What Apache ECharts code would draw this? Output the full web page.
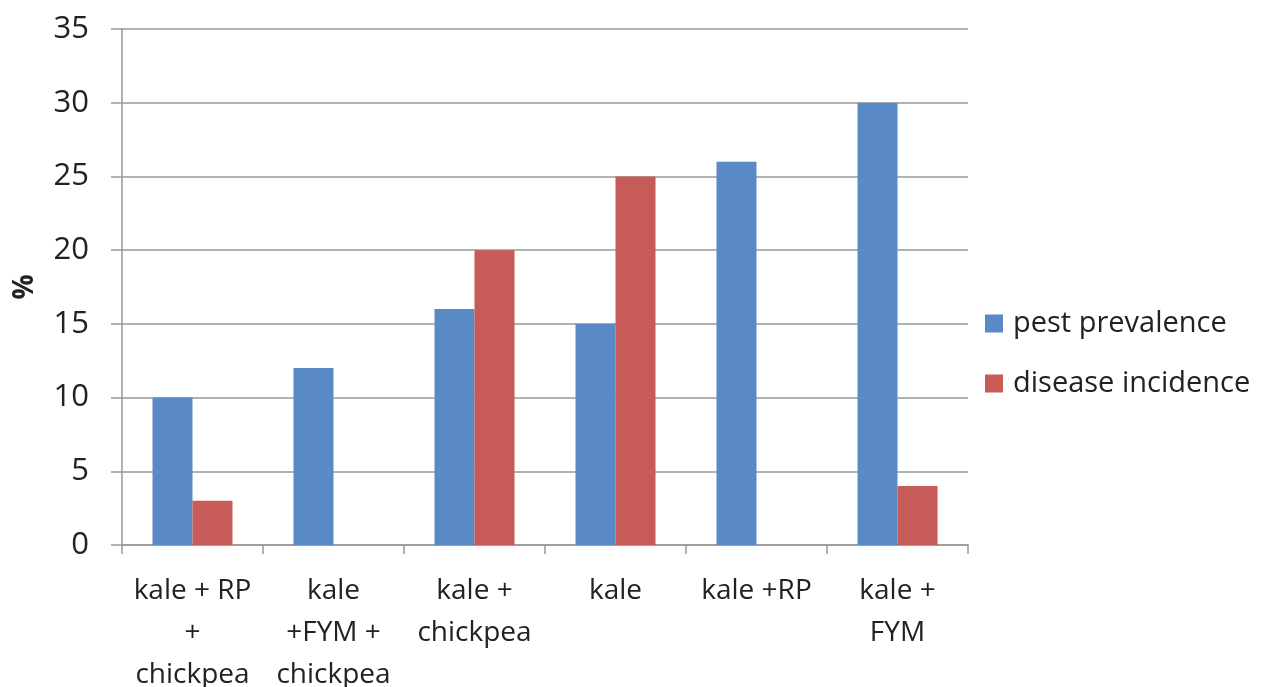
<!DOCTYPE html>
<html><head><meta charset="utf-8">
<script src="https://cdn.jsdelivr.net/npm/echarts@6/dist/echarts.min.js"></script>
<style>html,body{margin:0;padding:0;background:#fff}#c{width:1268px;height:687px}</style>
</head><body><div id="c"></div>
<script>
const categories = ['kale + RP\n+\nchickpea', 'kale\n+FYM +\nchickpea', 'kale +\nchickpea', 'kale', 'kale +RP', 'kale +\nFYM'];
const pestPrevalence = [10, 12, 16, 15, 26, 30];
const diseaseIncidence = [3, 0, 20, 25, 0, 4];
const seriesNames = ['pest prevalence', 'disease incidence'];
const yTicks = { min: 0, max: 35, interval: 5 };

const font = '"Open Sans", "Liberation Sans", sans-serif';
const chart = echarts.init(document.getElementById('c'));
chart.setOption({
  animation: false,
  textStyle: { fontFamily: font },
  grid: { left: 122, right: 300, top: 29, bottom: 142, containLabel: false, outerBoundsMode: 'none' },
  legend: {
    orient: 'vertical', left: 985, top: 309, padding: 0,
    itemWidth: 18, itemHeight: 18, itemGap: 31,
    icon: 'rect',
    textStyle: { fontSize: 29, color: '#222', fontFamily: font, padding: [0, 0, 0, 5] },
    data: seriesNames
  },
  xAxis: {
    type: 'category', data: categories,
    axisLine: { lineStyle: { color: '#999', width: 1.5 } },
    axisTick: { show: true, length: 9, lineStyle: { color: '#999', width: 1.5 } },
    axisLabel: { interval: 0, fontSize: 28, lineHeight: 42, margin: 25, color: '#222', fontFamily: font }
  },
  yAxis: {
    type: 'value', min: yTicks.min, max: yTicks.max, interval: yTicks.interval,
    name: '%', nameLocation: 'middle', nameGap: 83, nameRotate: 90,
    nameTextStyle: { fontSize: 28, fontWeight: 'bold', color: '#222', fontFamily: font },
    axisLine: { show: true, lineStyle: { color: '#999', width: 1.5 } },
    axisTick: { show: true, inside: false, length: 11, lineStyle: { color: '#999', width: 1.5 } },
    axisLabel: { fontSize: 31, margin: 33, color: '#222', fontFamily: font },
    splitLine: { lineStyle: { color: '#999', width: 1.5 } }
  },
  series: [
    { name: seriesNames[0], type: 'bar', data: pestPrevalence, barWidth: 40, barGap: '0%', itemStyle: { color: '#5A8AC6' } },
    { name: seriesNames[1], type: 'bar', data: diseaseIncidence, barWidth: 40, barGap: '0%', itemStyle: { color: '#C65B57' } }
  ]
});
</script></body></html>
